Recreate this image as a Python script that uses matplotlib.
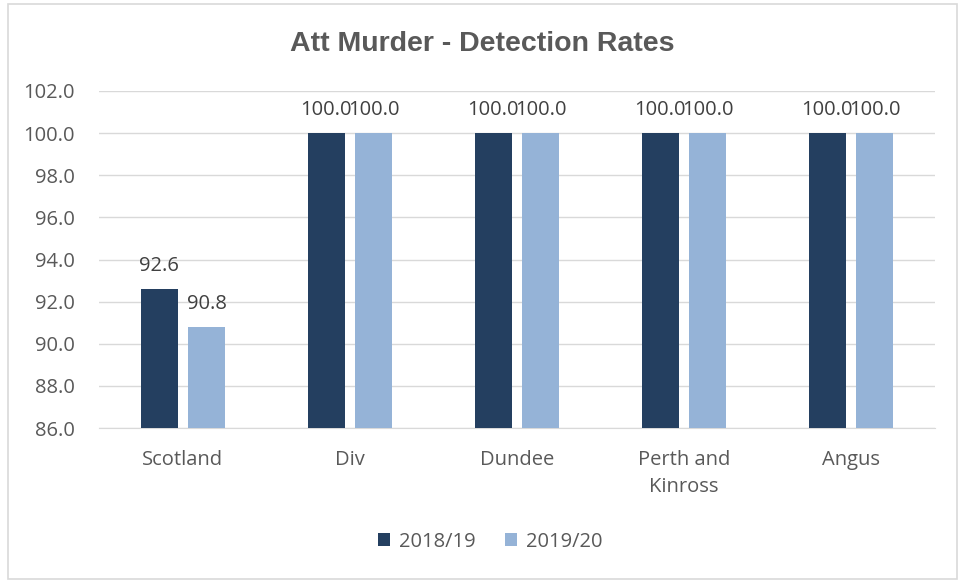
import matplotlib.pyplot as plt
import numpy as np
from matplotlib.patches import Rectangle

categories = ["Scotland", "Div", "Dundee", "Perth and\nKinross", "Angus"]
series_names = ["2018/19", "2019/20"]
rates_2018 = [92.6, 100.0, 100.0, 100.0, 100.0]
rates_2019 = [90.8, 100.0, 100.0, 100.0, 100.0]
colors = ["#243F60", "#95B3D7"]

plt.rcParams["font.family"] = ["Open Sans", "DejaVu Sans"]

fig = plt.figure(figsize=(9.65, 5.84), dpi=100)
ax = fig.add_axes([0.1031, 0.2671, 0.8653, 0.5771])

# 外枠
fig.patches.append(Rectangle((0.008, 0.008), 0.984, 0.985, transform=fig.transFigure,
                             fill=False, edgecolor="#D9D9D9", linewidth=1.2))

x = np.arange(len(categories))
width = 0.222
offset = 0.143
for vals, name, col, dx in zip([rates_2018, rates_2019], series_names, colors, [-offset, offset]):
    bars = ax.bar(x + dx, vals, width, color=col, label=name, zorder=3)
    for b, v in zip(bars, vals):
        ax.text(b.get_x() + b.get_width() / 2, v + 0.6, f"{v:.1f}", ha="center", va="bottom",
                fontsize=14.5, color="#404040")

ax.set_ylim(86, 102)
ax.set_yticks(np.arange(86, 103, 2))
ax.set_yticklabels([f"{t:.1f}" for t in np.arange(86, 103, 2)])
ax.set_xlim(-0.5, len(categories) - 0.5)
ax.set_xticks(x)
ax.set_xticklabels(categories, linespacing=1.45)
ax.grid(axis="y", color="#D9D9D9", linewidth=1, zorder=0)
for s in ["top", "right", "left"]:
    ax.spines[s].set_visible(False)
ax.spines["bottom"].set_color("#D9D9D9")
ax.tick_params(axis="both", length=0, labelsize=14.5, colors="#595959")
ax.tick_params(axis="x", pad=16)
ax.tick_params(axis="y", pad=18)

fig.text(0.5, 0.925, "Att Murder - Detection Rates", ha="center", va="center",
         fontsize=20.5, fontweight="bold", color="#595959", family="Liberation Sans")

fig.legend(loc="center", bbox_to_anchor=(0.508, 0.072), ncol=2, frameon=False,
           fontsize=14.5, labelcolor="#595959", handlelength=0.6, handleheight=0.6,
           columnspacing=1.5, handletextpad=0.4)

fig.savefig("out.png", dpi=100)
